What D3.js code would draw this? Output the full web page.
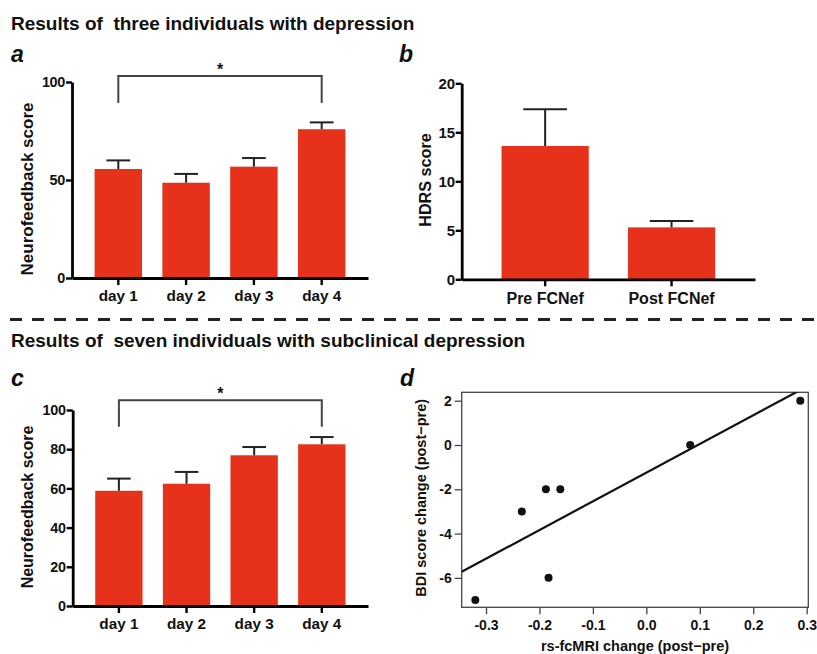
<!DOCTYPE html>
<html><head><meta charset="utf-8">
<script src="https://cdn.jsdelivr.net/npm/d3@7"></script>
<style>
body{margin:0;background:#fff}
text{font-family:"Liberation Sans",Arial,Helvetica,sans-serif;font-weight:bold;fill:#111;white-space:pre}
</style>
</head><body>
<svg id="chart" width="817" height="654"></svg>
<script>
// ---- data ----
const daysA = ["day 1", "day 2", "day 3", "day 4"];
const meanA = [55.6, 48.6, 56.8, 75.9];
const errA  = [4.4, 4.5, 4.4, 3.5];
const groupsB = ["Pre FCNef", "Post FCNef"];
const meanB = [13.6, 5.3];
const errB  = [3.75, 0.65];
const daysC = ["day 1", "day 2", "day 3", "day 4"];
const meanC = [58.8, 62.4, 76.9, 82.5];
const errC  = [6.2, 6.0, 4.2, 3.7];
const rsChange  = [-0.32, -0.233, -0.188, -0.161, -0.183, 0.082, 0.288];
const bdiChange = [-7, -3, -2, -2, -6, 0, 2];
const ticksA = [0, 50, 100];
const ticksB = [0, 5, 10, 15, 20];
const ticksC = [0, 20, 40, 60, 80, 100];
const ticksDx = [-0.3, -0.2, -0.1, 0.0, 0.1, 0.2, 0.3];
const ticksDy = [-6, -4, -2, 0, 2];
const titles = ["Results of  three individuals with depression", "Results of  seven individuals with subclinical depression"];

const BAR = "#e6321a";
const svg = d3.select("#chart");
svg.append("rect").attr("width", 817).attr("height", 654).attr("fill", "#fff");

function barPanel(o) {
  const g = svg.append("g");
  const x = d3.scaleBand().domain(o.cats).range([o.x0, o.x1]).paddingInner(o.pi).paddingOuter(o.po);
  const y = d3.scaleLinear().domain([0, o.yMax]).range([o.y0, o.y1]);
  // bars
  g.selectAll("rect.bar").data(o.means).join("rect")
    .attr("x", (d, i) => x(o.cats[i])).attr("width", x.bandwidth())
    .attr("y", d => y(d)).attr("height", d => y(0) - y(d)).attr("fill", BAR);
  // error bars
  const eb = g.append("g").attr("stroke", "#222").attr("stroke-width", 2).attr("fill", "none");
  o.means.forEach((m, i) => {
    const cx = x(o.cats[i]) + x.bandwidth() / 2;
    const w = x.bandwidth() / 4;
    eb.append("line").attr("x1", cx).attr("x2", cx).attr("y1", y(m)).attr("y2", y(m + o.errs[i]));
    eb.append("line").attr("x1", cx - w).attr("x2", cx + w).attr("y1", y(m + o.errs[i])).attr("y2", y(m + o.errs[i]));
  });
  // axes
  const ya = g.append("g").attr("transform", `translate(${o.x0},0)`)
    .call(d3.axisLeft(y).tickValues(o.ticks).tickSize(6).tickSizeOuter(0).tickPadding(1));
  const xa = g.append("g").attr("transform", `translate(0,${o.y0})`)
    .call(d3.axisBottom(x).tickSize(7).tickSizeOuter(0).tickPadding(4));
  [ya, xa].forEach(a => {
    a.select(".domain").attr("stroke", "#000").attr("stroke-width", 2.8);
    a.selectAll(".tick line").attr("stroke", "#000").attr("stroke-width", 2.4);
  });
  ya.selectAll(".tick text").attr("font-size", o.yTickFont).attr("fill", "#111").attr("letter-spacing", "-0.3px");
  xa.selectAll(".tick text").attr("font-size", o.xTickFont).attr("fill", "#111").attr("dy", null)
    .attr("y", o.xLabelBase - o.y0);
  // y label
  g.append("text").attr("transform", `translate(${o.labX},${o.labY}) rotate(-90)`)
    .attr("text-anchor", "middle").attr("dominant-baseline", "central")
    .attr("font-size", o.labFont).text(o.yLabel);
  // significance bracket
  if (o.bracket) {
    const c1 = x(o.cats[0]) + x.bandwidth() / 2, c4 = x(o.cats[o.cats.length - 1]) + x.bandwidth() / 2;
    g.append("path").attr("fill", "none").attr("stroke", "#444").attr("stroke-width", 2)
      .attr("d", `M${c1},${y(o.bracket[1])}V${y(o.bracket[0])}H${c4}V${y(o.bracket[1])}`);
    g.append("text").attr("x", (c1 + c4) / 2).attr("y", y(o.bracket[0]) - 1.5)
      .attr("text-anchor", "middle").attr("font-size", 16).attr("fill", "#333").text("*");
  }
}

// titles
svg.append("text").attr("x", 11).attr("y", 29.5).attr("font-size", 19).attr("fill", "#1a1a1a").text(titles[0]);
svg.append("text").attr("x", 11).attr("y", 346.5).attr("font-size", 19).attr("fill", "#1a1a1a").text(titles[1]);
// panel labels
[["a", 11, 62], ["b", 399, 62], ["c", 11, 386], ["d", 400, 386]].forEach(([t, px, py]) => {
  svg.append("text").attr("x", px).attr("y", py).attr("font-size", 23).attr("font-style", "italic").text(t);
});
// dashed separator
svg.append("line").attr("x1", 10).attr("x2", 817).attr("y1", 319.5).attr("y2", 319.5)
  .attr("stroke", "#222").attr("stroke-width", 3).attr("stroke-dasharray", "12,10");

barPanel({cats: daysA, means: meanA, errs: errA, ticks: ticksA, yMax: 100,
  x0: 72, x1: 368, y0: 278, y1: 82, pi: 0.3, po: 0.333,
  yTickFont: 14.4, xTickFont: 15.3, xLabelBase: 300.5,
  yLabel: "Neurofeedback score", labX: 27, labY: 189, labFont: 17, bracket: [103, 89.3]});

barPanel({cats: groupsB, means: meanB, errs: errB, ticks: ticksB, yMax: 20,
  x0: 461.7, x1: 755, y0: 279.3, y1: 83.3, pi: 0.31, po: 0.315,
  yTickFont: 15, xTickFont: 16, xLabelBase: 304,
  yLabel: "HDRS score", labX: 424.5, labY: 180, labFont: 16.2, bracket: null});

barPanel({cats: daysC, means: meanC, errs: errC, ticks: ticksC, yMax: 100,
  x0: 72.7, x1: 368, y0: 606, y1: 410, pi: 0.3, po: 0.333,
  yTickFont: 14.4, xTickFont: 15.3, xLabelBase: 628.5,
  yLabel: "Neurofeedback score", labX: 27, labY: 507, labFont: 16, bracket: [105, 91.5]});

// panel d scatter
(function () {
  const L = 461.7, R = 808.3, T = 392.3, B = 607.3;
  const g = svg.append("g");
  const x = d3.scaleLinear().domain([-0.3455, 0.303]).range([L, R]);
  const y = d3.scaleLinear().domain([-7.33, 2.38]).range([B, T]);
  const fmt = d => d3.format(".1f")(d).replace("\u2212", "-");
  const xa = g.append("g").attr("transform", `translate(0,${B})`)
    .call(d3.axisBottom(x).tickValues(ticksDx).tickSize(7).tickPadding(6).tickFormat(fmt));
  const ya = g.append("g").attr("transform", `translate(${L},0)`)
    .call(d3.axisLeft(y).tickValues(ticksDy).tickSize(7).tickPadding(3).tickFormat(d => String(d)));
  [xa, ya].forEach(a => {
    a.select(".domain").remove();
    a.selectAll(".tick line").attr("stroke", "#444").attr("stroke-width", 1.3);
    a.selectAll(".tick text").attr("font-size", 14).attr("fill", "#111");
  });
  g.append("rect").attr("x", L).attr("y", T).attr("width", R - L).attr("height", B - T)
    .attr("fill", "none").attr("stroke", "#444").attr("stroke-width", 1.3);
  // least squares fit line
  const mx = d3.mean(rsChange), my = d3.mean(bdiChange);
  let sxy = 0, sxx = 0;
  rsChange.forEach((v, i) => { sxy += (v - mx) * (bdiChange[i] - my); sxx += (v - mx) * (v - mx); });
  const slope = sxy / sxx, icpt = my - slope * mx;
  svg.append("clipPath").attr("id", "boxclip").append("rect")
    .attr("x", L).attr("y", T).attr("width", R - L).attr("height", B - T);
  const [d0, d1] = x.domain();
  g.append("line").attr("clip-path", "url(#boxclip)")
    .attr("x1", x(d0)).attr("y1", y(icpt + slope * d0))
    .attr("x2", x(d1)).attr("y2", y(icpt + slope * d1))
    .attr("stroke", "#111").attr("stroke-width", 2.2);
  g.selectAll("circle").data(rsChange).join("circle")
    .attr("cx", d => x(d)).attr("cy", (d, i) => y(bdiChange[i])).attr("r", 4).attr("fill", "#111");
  g.append("text").attr("x", (L + R) / 2).attr("y", 651).attr("text-anchor", "middle")
    .attr("font-size", 14.5).text("rs-fcMRI change (post\u2212pre)");
  g.append("text").attr("transform", `translate(421,${(T + B) / 2 - 2}) rotate(-90)`)
    .attr("text-anchor", "middle").attr("dominant-baseline", "central")
    .attr("font-size", 14.5).text("BDI score change (post\u2212pre)");
})();
</script>
</body></html>
